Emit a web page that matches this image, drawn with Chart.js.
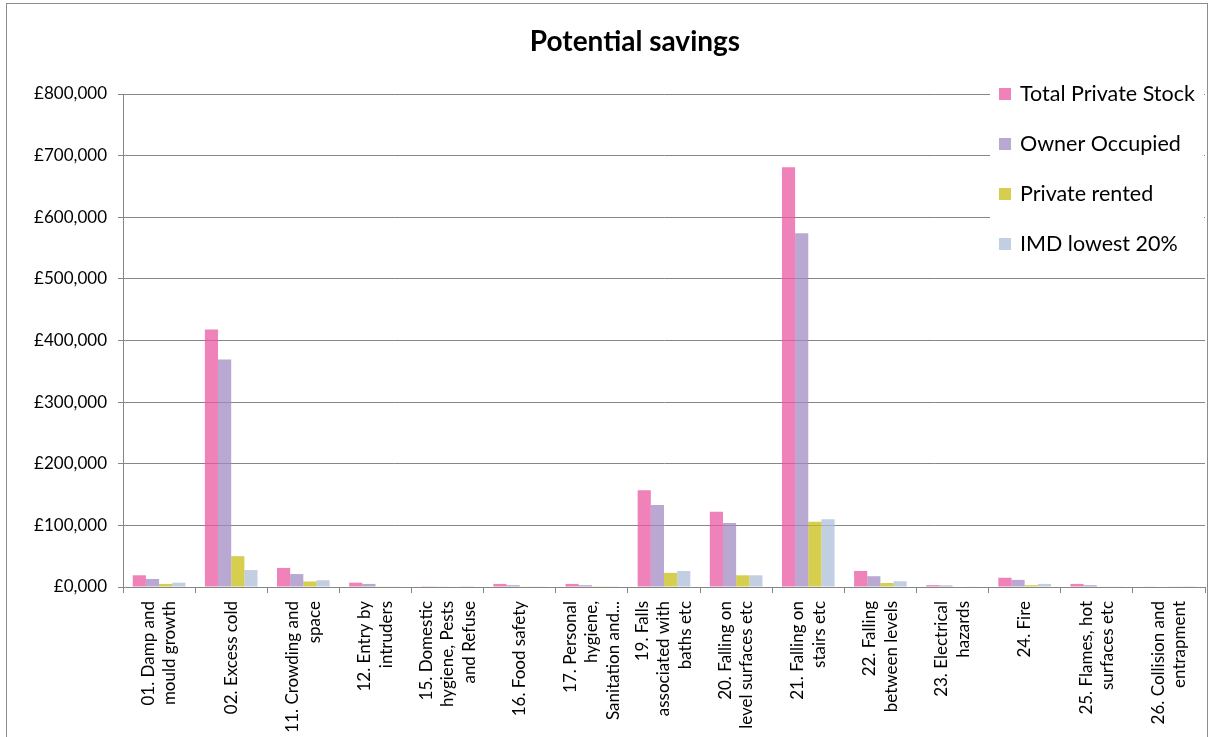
<!DOCTYPE html>
<html>
<head>
<meta charset="utf-8">
<script src="https://cdn.jsdelivr.net/npm/chart.js@4"></script>
<style>
  html, body { margin: 0; padding: 0; background: #fff; }
  canvas { display: block; }
</style>
</head>
<body>
<canvas id="savings" width="1213" height="737"></canvas>
<script>
const hazards = [
  ["01. Damp and", "mould growth"],
  ["02. Excess cold"],
  ["11. Crowding and", "space"],
  ["12. Entry by", "intruders"],
  ["15. Domestic", "hygiene, Pests", "and Refuse"],
  ["16. Food safety"],
  ["17. Personal", "hygiene,", "Sanitation and..."],
  ["19. Falls", "associated with", "baths etc"],
  ["20. Falling on", "level surfaces etc"],
  ["21. Falling on", "stairs etc"],
  ["22. Falling", "between levels"],
  ["23. Electrical", "hazards"],
  ["24. Fire"],
  ["25. Flames, hot", "surfaces etc"],
  ["26. Collision and", "entrapment"],
];

const totalPrivateStock = [19000, 418000, 31000, 7000, 1200, 5000, 5000, 157000, 122000, 681000, 26000, 3000, 15000, 5000, 1000];
const ownerOccupied = [13000, 369000, 21000, 5000, 600, 3000, 3000, 133000, 104000, 574000, 17500, 2500, 11500, 3000, 800];
const privateRented = [5000, 50000, 9000, 1000, 900, 1000, 1200, 23000, 19000, 106000, 6500, 800, 3000, 1000, 600];
const imdLowest20 = [7000, 27500, 11000, 600, 300, 500, 400, 26000, 19000, 110000, 9300, 600, 5000, 600, 300];

const yTickLabels = ["£0,000", "£100,000", "£200,000", "£300,000", "£400,000", "£500,000", "£600,000", "£700,000", "£800,000"];

const chartTitle = "Potential savings";

const FONT = "Lato, 'Open Sans', sans-serif";
const AXIS_GREY = "#868686";

// Outer frame and the title above the plot
const frame = {
  id: "frame",
  beforeDraw(chart) {
    const { ctx } = chart;
    ctx.save();
    ctx.strokeStyle = "#8c8c8c";
    ctx.lineWidth = 1;
    ctx.strokeRect(6.5, 3.5, 1201, 745);
    ctx.fillStyle = "#000";
    ctx.font = "bold 28px " + FONT;
    ctx.textAlign = "center";
    ctx.textBaseline = "middle";
    ctx.fillText(chartTitle, 635, 42);
    ctx.restore();
  },
};

// Rotated, wrapped category names centred under each group
const hazardLabels = {
  id: "hazardLabels",
  afterDraw(chart) {
    const { ctx } = chart;
    const x = chart.scales.x;
    const top = chart.chartArea.bottom + 14;
    const lineH = 21.5;
    ctx.save();
    ctx.fillStyle = "#000";
    ctx.font = "17px " + FONT;
    ctx.textAlign = "right";
    ctx.textBaseline = "middle";
    chart.data.labels.forEach((lines, i) => {
      const cx = x.getPixelForValue(i);
      lines.forEach((line, j) => {
        const off = (j - (lines.length - 1) / 2) * lineH;
        ctx.save();
        ctx.translate(cx + off, top);
        ctx.rotate(-Math.PI / 2);
        ctx.fillText(line, 0, 0);
        ctx.restore();
      });
    });
    ctx.restore();
  },
};

// Legend box sitting over the right side of the plot
const sideLegend = {
  id: "sideLegend",
  afterDraw(chart) {
    const { ctx } = chart;
    ctx.save();
    ctx.fillStyle = "#fff";
    ctx.fillRect(990, 72, 214, 196);
    ctx.font = "21.5px " + FONT;
    ctx.textBaseline = "middle";
    ctx.textAlign = "left";
    chart.data.datasets.forEach((ds, i) => {
      const cy = 94 + i * 50;
      ctx.fillStyle = ds.backgroundColor;
      ctx.fillRect(999, cy - 6, 12, 12);
      ctx.fillStyle = "#000";
      ctx.fillText(ds.label, 1020, cy);
    });
    ctx.restore();
  },
};

new Chart(document.getElementById("savings"), {
  type: "bar",
  plugins: [frame, hazardLabels, sideLegend],
  data: {
    labels: hazards,
    datasets: [
      { label: "Total Private Stock", data: totalPrivateStock, backgroundColor: "rgba(232, 88, 162, 0.75)" },
      { label: "Owner Occupied", data: ownerOccupied, backgroundColor: "rgba(160, 139, 195, 0.75)" },
      { label: "Private rented", data: privateRented, backgroundColor: "rgba(200, 190, 19, 0.75)" },
      { label: "IMD lowest 20%", data: imdLowest20, backgroundColor: "rgba(174, 191, 218, 0.75)" },
    ],
  },
  options: {
    responsive: false,
    animation: false,
    layout: { padding: { top: 94, right: 8, bottom: 0, left: 0 } },
    datasets: {
      bar: { categoryPercentage: 0.73, barPercentage: 1, borderWidth: 0 },
    },
    plugins: {
      legend: { display: false },
      tooltip: { enabled: false },
      title: { display: false },
    },
    scales: {
      x: {
        afterFit: (scale) => { scale.height = 150; },
        grid: {
          offset: true,
          drawOnChartArea: false,
          drawTicks: true,
          tickLength: 6,
          color: AXIS_GREY,
        },
        border: { display: true, color: AXIS_GREY, width: 1 },
        ticks: { display: false },
      },
      y: {
        min: 0,
        max: 800000,
        afterFit: (scale) => { scale.width = 123; },
        grid: {
          color: AXIS_GREY,
          lineWidth: 1,
          drawTicks: true,
          tickLength: 5,
        },
        border: { display: true, color: AXIS_GREY, width: 1 },
        ticks: {
          stepSize: 100000,
          padding: 11,
          color: "#000",
          font: { family: FONT, size: 17 },
          callback: (v, i) => yTickLabels[i],
        },
      },
    },
  },
});
</script>
</body>
</html>
